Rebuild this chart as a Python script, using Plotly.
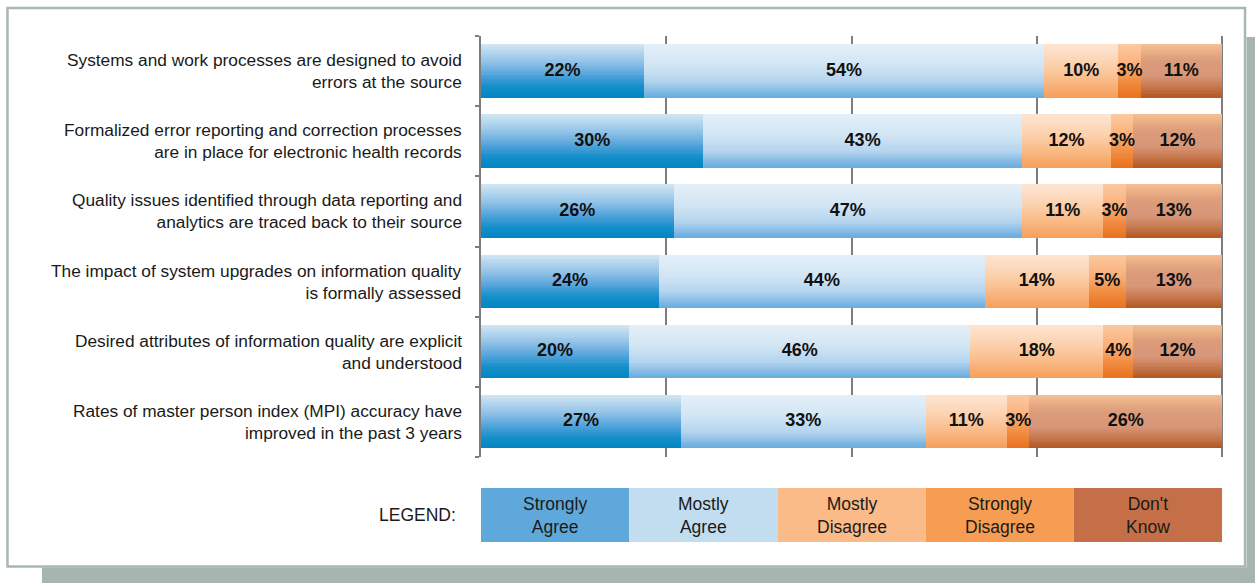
import plotly.graph_objects as go

# ---------------- data ----------------
categories = [
    "Systems and work processes are designed to avoid<br>errors at the source",
    "Formalized error reporting and correction processes<br>are in place for electronic health records",
    "Quality issues identified through data reporting and<br>analytics are traced back to their source",
    "The impact of system upgrades on information quality<br>is formally assessed",
    "Desired attributes of information quality are explicit<br>and understood",
    "Rates of master person index (MPI) accuracy have<br>improved in the past 3 years",
]
series_names = ["Strongly Agree", "Mostly Agree", "Mostly Disagree", "Strongly Disagree", "Don't Know"]
legend_labels = ["Strongly<br>Agree", "Mostly<br>Agree", "Mostly<br>Disagree", "Strongly<br>Disagree", "Don't<br>Know"]
strongly_agree = [22, 30, 26, 24, 20, 27]
mostly_agree = [54, 43, 47, 44, 46, 33]
mostly_disagree = [10, 12, 11, 14, 18, 11]
strongly_disagree = [3, 3, 3, 5, 4, 3]
dont_know = [11, 12, 13, 13, 12, 26]
x_gridlines = [0, 25, 50, 75, 100]

# ---------------- styles ----------------
series_values = [strongly_agree, mostly_agree, mostly_disagree, strongly_disagree, dont_know]
legend_colors = ["#5fa8db", "#c3ddf0", "#fbbb88", "#f79d53", "#c46f47"]
gradients = [
    [(0.0, "#d3e6f4"), (0.35, "#8ec1e7"), (0.6, "#4ea1d9"), (0.8, "#168fcb"), (1.0, "#0086c1")],
    [(0.0, "#e4f0f9"), (0.4, "#d2e5f4"), (0.7, "#b4d4ee"), (1.0, "#67acdf")],
    [(0.0, "#fde5d2"), (0.4, "#fcd0ac"), (0.7, "#f9b985"), (1.0, "#f6a05b")],
    [(0.0, "#fcc9a0"), (0.4, "#f9b07a"), (0.7, "#f18d43"), (1.0, "#e9721f")],
    [(0.0, "#f7bf92"), (0.3, "#dc9d7b"), (0.6, "#d89679"), (0.8, "#c77a4f"), (1.0, "#b35821")],
]
FONT = "Liberation Sans, Arial, Helvetica, sans-serif"
GRID = "#7d7d7d"
FRAME = "#a8b8b1"

W, H = 1255, 583
X_MAX = 100.4
PL, PT, PB = 481, 36, 457          # plot area in pixels
PR = PL + 741 * X_MAX / 100        # so that 100% lands at x=1222


def hex2rgb(h):
    h = h.lstrip("#")
    return tuple(int(h[i:i + 2], 16) for i in (0, 2, 4))


def grad_color(stops, t):
    for (p0, c0), (p1, c1) in zip(stops[:-1], stops[1:]):
        if p0 <= t <= p1:
            f = (t - p0) / (p1 - p0) if p1 > p0 else 0
            a, b = hex2rgb(c0), hex2rgb(c1)
            return "rgb(%d,%d,%d)" % tuple(round(a[i] + (b[i] - a[i]) * f) for i in range(3))
    return stops[-1][1]


def px_x(p):
    return (p - PL) / (PR - PL)


def px_y(p):
    return (PB - p) / (PB - PT)


rows = list(range(len(categories)))
bar_w = 0.755
N = 36

fig = go.Figure()

# cumulative bases
bases = []
cum = [0] * len(categories)
for vals in series_values:
    bases.append(list(cum))
    cum = [c + v for c, v in zip(cum, vals)]

# gradient bars (stack of thin horizontal strips)
for s, vals in enumerate(series_values):
    for k in range(N):
        t = (k + 0.5) / N
        fig.add_trace(go.Bar(
            x=vals, y=rows, base=bases[s], orientation="h",
            width=bar_w / N, offset=-bar_w / 2 + k * bar_w / N,
            marker=dict(color=grad_color(gradients[s], t), line=dict(width=0)),
            showlegend=False, hoverinfo="skip", name=series_names[s],
        ))

# value labels
for s, vals in enumerate(series_values):
    fig.add_trace(go.Scatter(
        x=[b + v / 2 for b, v in zip(bases[s], vals)], y=rows,
        mode="text", text=[f"{v}%" for v in vals],
        textfont=dict(family=FONT, size=18, color="#111111", weight="bold"),
        showlegend=False, hoverinfo="skip",
    ))

annotations = []
for r, cat in zip(rows, categories):
    annotations.append(dict(
        x=0, y=r, xref="x", yref="y", text=cat, showarrow=False,
        xanchor="right", yanchor="middle", align="right", xshift=-17,
        font=dict(family=FONT, size=17.3, color="#1a1a1a"),
    ))

# legend boxes
shapes = []
n = len(series_names)
ly0, ly1 = px_y(542), px_y(488)
for i in range(n):
    x0 = 100 * i / n
    x1 = 100 * (i + 1) / n
    shapes.append(dict(type="rect", xref="x", yref="paper", x0=x0, x1=x1, y0=ly0, y1=ly1,
                       fillcolor=legend_colors[i], line=dict(width=0), layer="above"))
    annotations.append(dict(
        x=(x0 + x1) / 2, y=(ly0 + ly1) / 2, xref="x", yref="paper", text=legend_labels[i],
        showarrow=False, xanchor="center", yanchor="middle", align="center",
        font=dict(family=FONT, size=17.5, color="#1a1a1a"),
    ))
annotations.append(dict(
    x=px_x(458), y=(ly0 + ly1) / 2, xref="paper", yref="paper", text="LEGEND:",
    showarrow=False, xanchor="right", yanchor="middle",
    font=dict(family=FONT, size=17.5, color="#1a1a1a"),
))

# frame + shadow
shapes.append(dict(type="rect", xref="paper", yref="paper",
                   x0=px_x(42), x1=px_x(1256), y0=px_y(584), y1=px_y(567.5),
                   fillcolor="#a6b5ae", line=dict(width=0), layer="below"))
shapes.append(dict(type="rect", xref="paper", yref="paper",
                   x0=px_x(1246.5), x1=px_x(1256), y0=px_y(584), y1=px_y(37),
                   fillcolor="#a6b5ae", line=dict(width=0), layer="below"))
shapes.append(dict(type="rect", xref="paper", yref="paper",
                   x0=px_x(7.5), x1=px_x(1245), y0=px_y(566.5), y1=px_y(8),
                   fillcolor="white", line=dict(width=2.5, color=FRAME), layer="below"))

fig.update_layout(
    width=W, height=H,
    margin=dict(l=PL, r=W - PR, t=PT, b=H - PB, pad=0),
    paper_bgcolor="white", plot_bgcolor="rgba(0,0,0,0)",
    barmode="overlay", bargap=0,
    showlegend=False,
    xaxis=dict(range=[0, X_MAX], tickvals=x_gridlines, showticklabels=False, ticks="",
               showgrid=True, gridcolor=GRID, gridwidth=2, zeroline=False, fixedrange=True),
    yaxis=dict(range=[len(categories) - 0.5, -0.5],
               tickvals=[r - 0.5 for r in rows] + [len(categories) - 0.5],
               showticklabels=False, ticks="outside", ticklen=4, tickwidth=2, tickcolor=GRID,
               showline=True, linecolor=GRID, linewidth=2, showgrid=False, zeroline=False,
               fixedrange=True),
    shapes=shapes, annotations=annotations,
)

fig.write_html(
    "out.html",
    config={"displayModeBar": False},
    post_script="document.body.style.margin='0';document.body.style.overflow='hidden';",
)
